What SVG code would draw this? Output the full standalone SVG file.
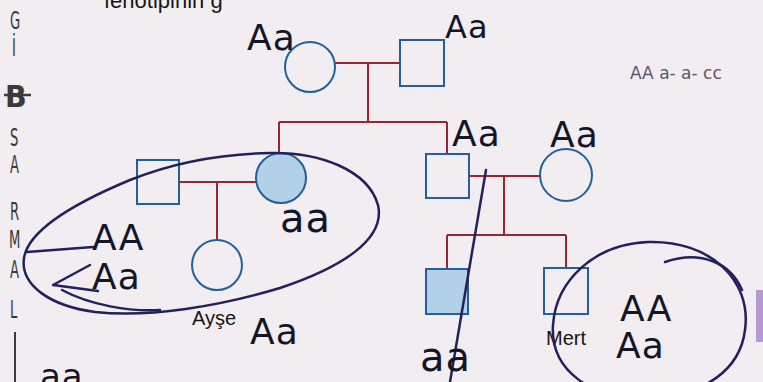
<svg xmlns="http://www.w3.org/2000/svg" width="763" height="382" viewBox="0 0 763 382">
<style>
.node{fill:none;stroke:#23609a;stroke-width:2}
.aff{fill:#b2d0e8;stroke:#23609a;stroke-width:2}
.con{fill:none;stroke:#9a2436;stroke-width:2}
.lbl{font-family:"Liberation Sans",Arial,sans-serif;font-size:20px;fill:#161616}
.hw{font-family:"DejaVu Sans","Liberation Sans",sans-serif;font-size:36px;fill:#141628;letter-spacing:1px}
.ink{fill:none;stroke:#23215c;stroke-width:2.5;stroke-linecap:round;stroke-linejoin:round}
.mg{font-family:"DejaVu Sans","Liberation Sans",sans-serif;font-size:24px;fill:#3a3a3a}
</style>
<rect width="763" height="382" fill="#f1edf0"/>
<rect x="756" y="290" width="7" height="52" fill="#b49ad0"/>
<text x="104" y="8" style="font-family:'Liberation Sans',Arial,sans-serif;font-size:22px;fill:#161616">fenotipinin g</text>
<g id="margin">
<text class="mg" transform="translate(10,29) scale(0.55,1)">G</text>
<text class="mg" transform="translate(12,56) scale(0.55,1)">İ</text>
<text class="mg" style="font-size:30px;font-weight:bold" transform="translate(5,107) scale(0.95,1)">B</text>
<line x1="4" y1="95" x2="31" y2="95" stroke="#3a3a3a" stroke-width="2.5"/>
<text class="mg" transform="translate(10,146) scale(0.55,1)">S</text>
<text class="mg" transform="translate(10,173) scale(0.55,1)">A</text>
<text class="mg" transform="translate(10,220) scale(0.55,1)">R</text>
<text class="mg" transform="translate(9,248) scale(0.55,1)">M</text>
<text class="mg" transform="translate(10,278) scale(0.55,1)">A</text>
<text class="mg" transform="translate(10,318) scale(0.55,1)">L</text>
<line x1="15" y1="332" x2="15" y2="382" stroke="#3a3a3a" stroke-width="2"/>
</g>
<g id="connectors">
<path class="con" d="M335 63H400"/>
<path class="con" d="M368 63V122"/>
<path class="con" d="M279 122H447"/>
<path class="con" d="M279 122V153"/>
<path class="con" d="M447 122V154"/>
<path class="con" d="M179 182H256"/>
<path class="con" d="M217 182V240"/>
<path class="con" d="M469 176H540"/>
<path class="con" d="M504 176V235"/>
<path class="con" d="M447 235H566"/>
<path class="con" d="M447 235V269"/>
<path class="con" d="M566 235V268"/>
</g>
<g id="gen1-mother"><circle class="node" cx="310" cy="67" r="25"/></g>
<g id="gen1-father"><rect class="node" x="400" y="40" width="44" height="46"/></g>
<g id="gen2-husband"><rect class="node" x="137" y="160" width="42" height="44"/></g>
<g id="gen2-daughter"><circle class="aff" cx="281" cy="178" r="25"/></g>
<g id="gen2-son"><rect class="node" x="426" y="154" width="43" height="44"/></g>
<g id="gen2-wife"><circle class="node" cx="566" cy="175" r="26"/></g>
<g id="ayse"><circle class="node" cx="217" cy="265" r="25"/><text class="lbl" x="192" y="325">Ayşe</text></g>
<g id="gen3-son"><rect class="aff" x="426" y="269" width="42" height="45"/></g>
<g id="mert"><rect class="node" x="544" y="268" width="44" height="46"/><text class="lbl" x="546" y="345">Mert</text></g>
<g id="handwriting">
<path class="ink" d="M270 153C320 152 368 170 378 205C386 240 340 268 280 288C220 306 150 318 95 312C50 306 20 285 24 258C28 232 70 205 130 180C175 162 220 154 270 153Z"/>
<path class="ink" d="M62 290C90 305 130 312 160 310"/>
<path class="ink" d="M27 252L93 247"/>
<path class="ink" d="M90 265L53 285L98 291"/>
<path class="ink" d="M648 242C710 240 752 280 745 330C740 370 705 395 650 398C590 400 550 370 553 325C556 280 595 244 648 242Z"/>
<path class="ink" d="M665 262C700 250 730 262 742 290"/>
<path class="ink" d="M486 170L450 382"/>
<text class="hw" x="247" y="50">Aa</text>
<text class="hw" x="445" y="38" style="font-size:32px">Aa</text>
<text class="hw" x="452" y="146">Aa</text>
<text class="hw" x="550" y="147">Aa</text>
<text class="hw" x="280" y="232" style="font-size:40px">aa</text>
<text class="hw" x="92" y="250">AA</text>
<text class="hw" x="92" y="289">Aa</text>
<text class="hw" x="250" y="344">Aa</text>
<text class="hw" x="420" y="371" style="font-size:40px">aa</text>
<text class="hw" x="620" y="321">AA</text>
<text class="hw" x="616" y="358">Aa</text>
<text class="hw" x="40" y="388" style="font-size:34px">aa</text>
<text x="630" y="79" style="font-family:'DejaVu Sans',sans-serif;font-size:17px;fill:#2a2440;opacity:0.75">AA a- a- cc</text>
</g>
</svg>
